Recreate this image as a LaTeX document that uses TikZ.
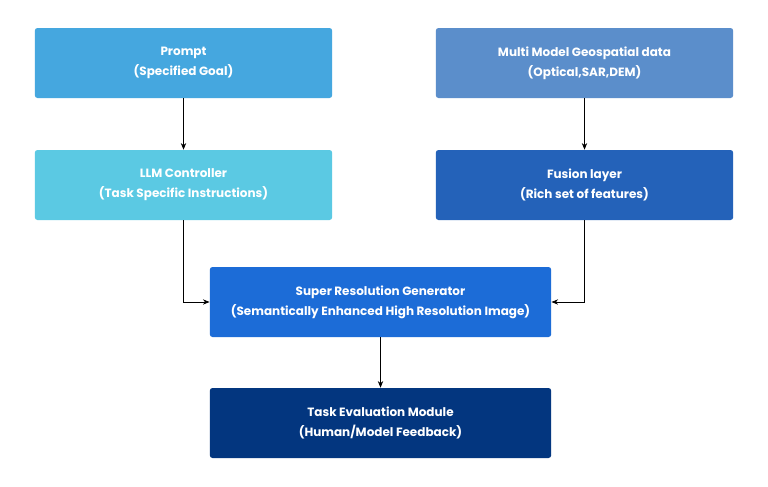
\documentclass[tikz,border=0pt]{standalone}
\usepackage{fontspec}
\setmainfont{Poppins}
\usetikzlibrary{arrows.meta}
\definecolor{cPrompt}{HTML}{45A7DF}
\definecolor{cMulti}{HTML}{5B8ECB}
\definecolor{cLLM}{HTML}{5BC9E3}
\definecolor{cFusion}{HTML}{2462B9}
\definecolor{cSR}{HTML}{1C6CD7}
\definecolor{cTE}{HTML}{03367F}
\begin{document}
\begin{tikzpicture}[x=0.75pt,y=-0.75pt,
  box/.style={rounded corners=2pt,text=white,font=\bfseries\fontsize{9}{15}\selectfont,align=center,inner sep=0pt},
  arr/.style={-{Stealth[length=5pt,width=4pt]},line width=0.6pt,black}]
\useasboundingbox (0,0) rectangle (768,486);
\fill[white] (0,0) rectangle (768,486);
\node[box,fill=cPrompt,minimum width=223pt,minimum height=52.5pt] (p) at (183.5,63) {Prompt\\(Specified Goal)};
\node[box,fill=cMulti,minimum width=223pt,minimum height=52.5pt] (m) at (584.5,63) {Multi Model Geospatial data\\(Optical,SAR,DEM)};
\node[box,fill=cLLM,minimum width=223pt,minimum height=52.5pt] (l) at (183.5,185) {LLM Controller\\(Task Specific Instructions)};
\node[box,fill=cFusion,minimum width=223pt,minimum height=52.5pt] (f) at (584.5,185) {Fusion layer\\(Rich set of features)};
\node[box,fill=cSR,minimum width=256pt,minimum height=52.5pt] (s) at (380.5,302) {Super Resolution Generator\\(Semantically Enhanced High Resolution Image)};
\node[box,fill=cTE,minimum width=256pt,minimum height=52.5pt] (t) at (380.5,423) {Task Evaluation Module\\(Human/Model Feedback)};
\draw[arr] (p.south) -- (l.north);
\draw[arr] (m.south) -- (f.north);
\draw[arr] (l.south) |- (s.west);
\draw[arr] (f.south) |- (s.east);
\draw[arr] (s.south) -- (t.north);
\end{tikzpicture}
\end{document}
